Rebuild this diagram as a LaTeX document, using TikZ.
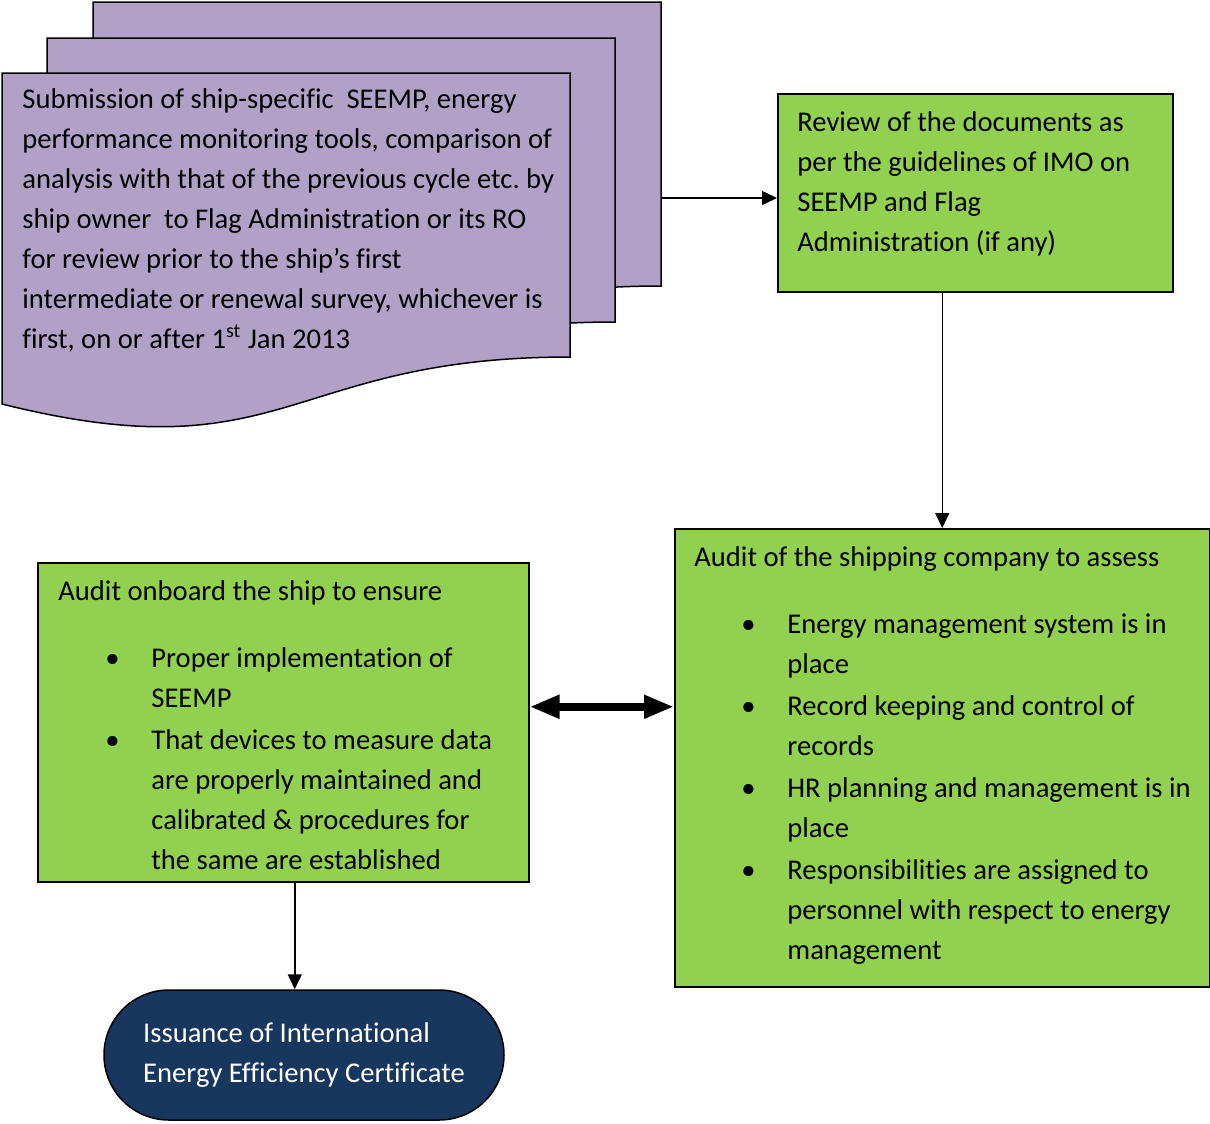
\documentclass[tikz,border=0pt]{standalone}
\usepackage{fontspec}
\setmainfont{Carlito}[Ligatures=NoCommon]
\frenchspacing
\usetikzlibrary{arrows.meta}
\definecolor{docpurple}{HTML}{B2A1C7}
\definecolor{boxgreen}{HTML}{92D050}
\definecolor{certblue}{HTML}{17375E}
\tikzset{
	doc/.style={draw=black, fill=docpurple, line width=0.75pt},
	greenbox/.style={
		rectangle,
		draw=black,
		fill=boxgreen,
		line width=0.75pt,
		anchor=north west,
		inner sep=0pt
	},
	boxtext/.style={
		anchor=north west,
		inner sep=0pt,
		align=flush left,
		font=\fontsize{14.3}{20}\selectfont
	},
	conn/.style={-{Triangle[length=7.5pt,width=7pt]}, line width=0.75pt},
	dbl/.style={{Triangle[length=15pt,width=11pt]}-{Triangle[length=15pt,width=11pt]}, line width=4pt}
}
\newcommand{\bitem}[1]{\par\vspace{1pt}{\leftskip=46.5pt\noindent\llap{\makebox[23pt][l]{\textbullet}}#1\par}}
\newcommand{\docshape}[2]{\draw[doc, shift={(#1,#2)}] (2,73) -- (570,73) -- (570,357) .. controls (286,357) and (286,475) .. (2,404) -- cycle;}

\begin{document}
\begin{tikzpicture}[x=0.5pt, y=-0.5pt]
	\useasboundingbox (0,0) rectangle (1210,1124);

	% stack of documents
	\docshape{91}{-71}
	\docshape{45}{-35}
	\docshape{0}{0}
	\node[boxtext] (sub) at (22,80) {\strut Submission of ship-specific\ \ SEEMP, energy\\performance monitoring tools, comparison of\\analysis with that of the previous cycle etc. by\\ship owner\ \ to Flag Administration or its RO\\for review prior to the ship’s first\\intermediate or renewal survey, whichever is\\first, on or after 1\textsuperscript{st} Jan 2013};
	\coordinate (docR) at (662,198);

	\node[greenbox, minimum width=197.5pt, minimum height=99pt] (review) at (777,93) {};
	\node[boxtext] (review-txt) at (797,103) {\strut Review of the documents as\\per the guidelines of IMO on\\SEEMP and Flag\\Administration (if any)};

	\node[greenbox, minimum width=267.5pt, minimum height=229pt] (company) at (674,528) {};
	\node[boxtext, text width=258pt] (company-txt) at (694,538) {\noindent\strut Audit of the shipping company to assess\par\vspace{12.5pt}
		\bitem{Energy management system is in\\place}
		\bitem{Record keeping and control of\\records}
		\bitem{HR planning and management is in\\place}
		\bitem{Responsibilities are assigned to\\personnel with respect to energy\\management}};

	\node[greenbox, minimum width=245.5pt, minimum height=159.5pt] (onboard) at (37,562) {};
	\node[boxtext, text width=235pt] (onboard-txt) at (58,572) {\noindent\strut Audit onboard the ship to ensure\par\vspace{12.5pt}
		\bitem{Proper implementation of\\SEEMP}
		\bitem{That devices to measure data\\are properly maintained and\\calibrated \& procedures for\\the same are established}};

	\node[draw=black, fill=certblue, text=white, line width=0.75pt, rounded corners=32.5pt, minimum width=200pt, minimum height=65pt, align=left, font=\fontsize{14.3}{20}\selectfont] (cert) at (304,1055) {Issuance of International\\Energy Efficiency Certificate};

	\draw[conn] (docR) -- (docR -| review.west);
	\draw[conn] (review.south -| company.north) -- (company.north);
	\draw[dbl] ([yshift=7.75pt]onboard.east) coordinate (dblL) -- (dblL -| company.west);
	\draw[conn] ([xshift=5.75pt]onboard.south) coordinate (certA) -- (certA |- cert.north);
\end{tikzpicture}
\end{document}
